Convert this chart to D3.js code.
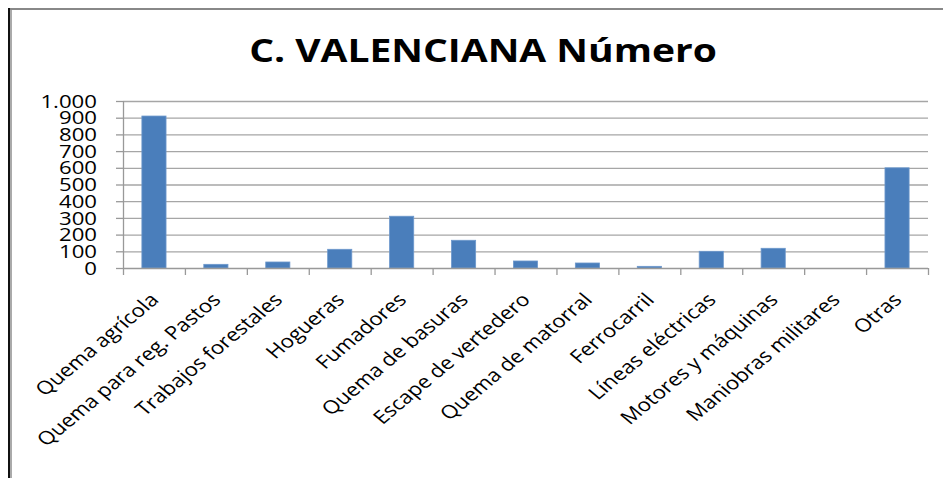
<!DOCTYPE html>
<html>
<head>
<meta charset="utf-8">
<script src="https://cdn.jsdelivr.net/npm/d3@7"></script>
<style>
  body { margin: 0; background: #fff; }
  svg { display: block; }
  text { font-family: "Open Sans", sans-serif; fill: #000; }
</style>
</head>
<body>
<div id="chart"></div>
<script>
const categories = ["Quema agrícola", "Quema para reg. Pastos", "Trabajos forestales", "Hogueras",
  "Fumadores", "Quema de basuras", "Escape de vertedero", "Quema de matorral", "Ferrocarril",
  "Líneas eléctricas", "Motores y máquinas", "Maniobras militares", "Otras"];
const values = [910, 22, 36, 112, 310, 166, 42, 30, 10, 100, 118, 0, 600];
const yTicks = [0, 100, 200, 300, 400, 500, 600, 700, 800, 900, 1000];
const title = "C. VALENCIANA Número";

const size = { width: 943, height: 478 };
const plot = { left: 123, right: 928, top: 101, bottom: 268 };
// the source picture was stretched sideways, so text gets the same stretch
const stretch = 1.2;

const svg = d3.select("#chart").append("svg")
  .attr("width", size.width)
  .attr("height", size.height);

//frame
svg.append("line").attr("x1", 9).attr("x2", size.width).attr("y1", 9).attr("y2", 9)
  .attr("stroke", "#888").attr("stroke-width", 2);
svg.append("line").attr("x1", 9).attr("x2", 9).attr("y1", 8).attr("y2", size.height)
  .attr("stroke", "#111").attr("stroke-width", 2);
svg.append("line").attr("x1", 11).attr("x2", 11).attr("y1", 10).attr("y2", size.height)
  .attr("stroke", "#aaa").attr("stroke-width", 2);

//scales
const x = d3.scaleBand()
  .domain(categories)
  .range([plot.left, plot.right]);

const y = d3.scaleLinear()
  .domain([0, 1000])
  .range([plot.bottom, plot.top]);

//title
svg.append("text")
  .attr("transform", `translate(483,62) scale(${stretch},1)`)
  .attr("text-anchor", "middle")
  .style("font-size", "32.5px")
  .style("font-weight", "bold")
  .text(title);

//gridlines
svg.append("g").selectAll("line")
  .data(yTicks.filter(d => d > 0))
  .enter().append("line")
    .attr("x1", plot.left).attr("x2", plot.right)
    .attr("y1", d => y(d) + 0.5).attr("y2", d => y(d) + 0.5)
    .attr("stroke", "#a6a6a6").attr("stroke-width", 1.3);

//y axis
const yAxis = svg.append("g");
yAxis.append("line")
  .attr("x1", plot.left + 0.5).attr("x2", plot.left + 0.5)
  .attr("y1", plot.top).attr("y2", plot.bottom)
  .attr("stroke", "#999").attr("stroke-width", 1.3);
yAxis.selectAll(".tick")
  .data(yTicks)
  .enter().append("line")
    .attr("x1", plot.left - 7).attr("x2", plot.left)
    .attr("y1", d => y(d) + 0.5).attr("y2", d => y(d) + 0.5)
    .attr("stroke", "#999").attr("stroke-width", 1.3);
yAxis.selectAll("text")
  .data(yTicks)
  .enter().append("text")
    .attr("transform", d => `translate(97,${y(d)}) scale(${stretch},1)`)
    .attr("dy", "0.36em")
    .attr("text-anchor", "end")
    .style("font-size", "18.5px")
    .text(d => d3.format(",")(d).replace(/,/g, "."));

//bars
const barWidth = x.bandwidth() * 0.39;
svg.append("g").selectAll("rect")
  .data(values)
  .enter().append("rect")
    .attr("x", (d, i) => x(categories[i]) + (x.bandwidth() - barWidth) / 2)
    .attr("y", d => y(d))
    .attr("width", barWidth)
    .attr("height", d => plot.bottom - y(d))
    .attr("fill", "#4a7ebb")
    .attr("stroke", "#6d98cc")
    .attr("stroke-width", d => d > 0 ? 0.8 : 0);

//x axis
const xAxis = svg.append("g");
xAxis.append("line")
  .attr("x1", plot.left).attr("x2", plot.right)
  .attr("y1", plot.bottom + 0.5).attr("y2", plot.bottom + 0.5)
  .attr("stroke", "#999").attr("stroke-width", 1.3);
xAxis.selectAll(".tick")
  .data(categories.concat([null]))
  .enter().append("line")
    .attr("x1", (d, i) => plot.left + i * x.bandwidth() + 0.5)
    .attr("x2", (d, i) => plot.left + i * x.bandwidth() + 0.5)
    .attr("y1", plot.bottom).attr("y2", plot.bottom + 7)
    .attr("stroke", "#999").attr("stroke-width", 1.3);
xAxis.selectAll("text")
  .data(categories)
  .enter().append("text")
    .attr("transform", d => `translate(${x(d) + x.bandwidth() / 2 + 6},${plot.bottom + 33}) scale(${stretch},1) rotate(-45)`)
    .attr("text-anchor", "end")
    .style("font-size", "18.5px")
    .text(d => d);
</script>
</body>
</html>
